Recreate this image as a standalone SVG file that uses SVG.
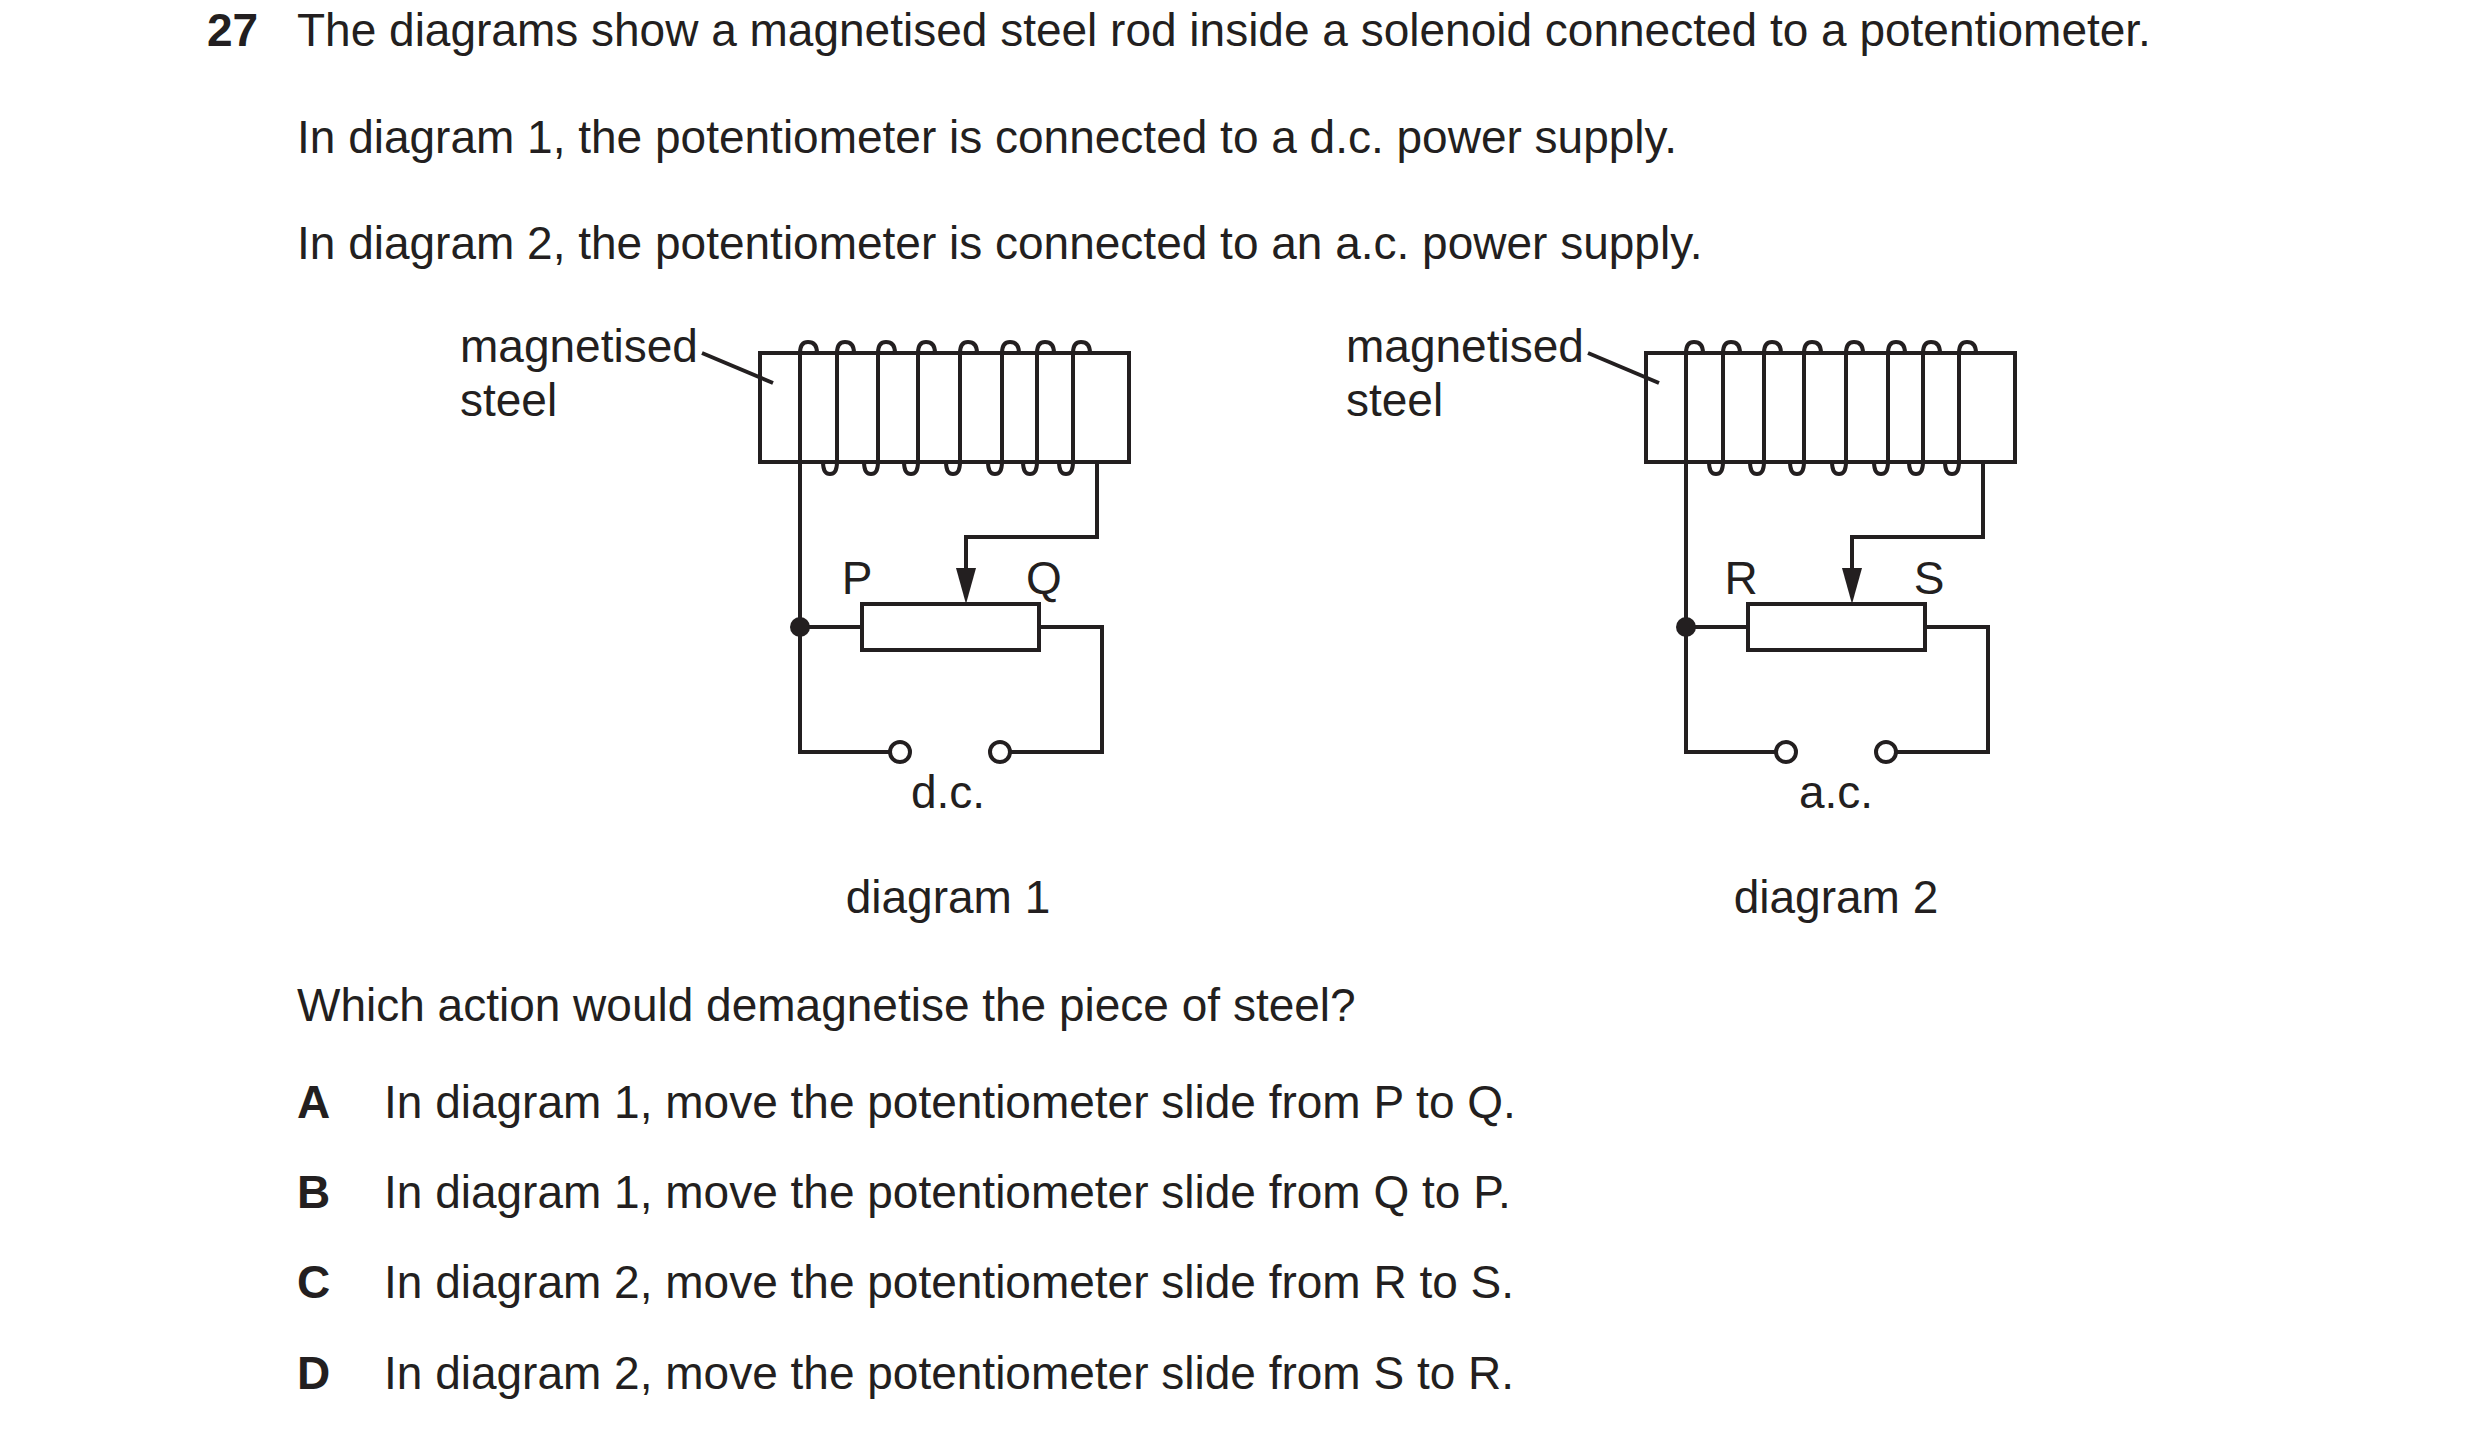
<svg xmlns="http://www.w3.org/2000/svg" width="2480" height="1438" viewBox="0 0 2480 1438">
<style>
text{font-family:"Liberation Sans",Arial,sans-serif;font-size:46px;fill:#231f20}
.b{font-weight:bold}
.w{fill:none;stroke:#231f20;stroke-width:4}
.c{fill:#fff;stroke:#231f20;stroke-width:4}
.m{text-anchor:middle}
</style>
<defs>
<g id="circuit">
<rect class="w" x="760" y="353" width="369" height="109"/>
<path class="w" d="M702,353 L773,383"/>
<path class="w" d="M800,627 V353 Q800,342 808,342 Q817,342 817,353
M823,462 Q823,474 830,474 Q837,474 837,462 V353 Q837,342 845,342 Q854,342 854,353
M864,462 Q864,474 871,474 Q878,474 878,462 V353 Q878,342 886,342 Q895,342 895,353
M904,462 Q904,474 911,474 Q918,474 918,462 V353 Q918,342 926,342 Q935,342 935,353
M946,462 Q946,474 953,474 Q960,474 960,462 V353 Q960,342 968,342 Q977,342 977,353
M988,462 Q988,474 995,474 Q1002,474 1002,462 V353 Q1002,342 1010,342 Q1019,342 1019,353
M1023,462 Q1023,474 1030,474 Q1037,474 1037,462 V353 Q1037,342 1045,342 Q1054,342 1054,353
M1059,462 Q1059,474 1066,474 Q1073,474 1073,462 V353 Q1073,342 1081,342 Q1090,342 1090,353"/>
<path class="w" d="M1097,462 V537 H966 V570"/>
<path d="M956,568 L976,568 L966,604 Z" fill="#231f20"/>
<rect class="w" x="862" y="604" width="177" height="46"/>
<path class="w" d="M800,627 V752 H890 M800,627 H862 M1039,627 H1102 V752 H1010"/>
<circle cx="800" cy="627" r="10" fill="#231f20"/>
<circle class="c" cx="900" cy="752" r="10"/>
<circle class="c" cx="1000" cy="752" r="10"/>
<text x="460" y="362">magnetised</text>
<text x="460" y="416">steel</text>
</g>
</defs>
<g id="question">
<text class="b" x="207" y="46">27</text>
<text x="297" y="46">The diagrams show a magnetised steel rod inside a solenoid connected to a potentiometer.</text>
<text x="297" y="153">In diagram 1, the potentiometer is connected to a d.c. power supply.</text>
<text x="297" y="259">In diagram 2, the potentiometer is connected to an a.c. power supply.</text>
</g>
<g id="diagram1">
<use href="#circuit"/>
<text x="857" y="594" class="m">P</text>
<text x="1044" y="594" class="m">Q</text>
<text x="948" y="808" class="m">d.c.</text>
<text x="948" y="913" class="m">diagram 1</text>
</g>
<g id="diagram2">
<use href="#circuit" transform="translate(886,0)"/>
<text x="1741" y="594" class="m">R</text>
<text x="1929" y="594" class="m">S</text>
<text x="1836" y="808" class="m">a.c.</text>
<text x="1836" y="913" class="m">diagram 2</text>
</g>
<g id="options">
<text x="297" y="1021">Which action would demagnetise the piece of steel?</text>
<text class="b" x="297" y="1118">A</text><text x="384" y="1118">In diagram 1, move the potentiometer slide from P to Q.</text>
<text class="b" x="297" y="1208">B</text><text x="384" y="1208">In diagram 1, move the potentiometer slide from Q to P.</text>
<text class="b" x="297" y="1298">C</text><text x="384" y="1298">In diagram 2, move the potentiometer slide from R to S.</text>
<text class="b" x="297" y="1389">D</text><text x="384" y="1389">In diagram 2, move the potentiometer slide from S to R.</text>
</g>
</svg>
